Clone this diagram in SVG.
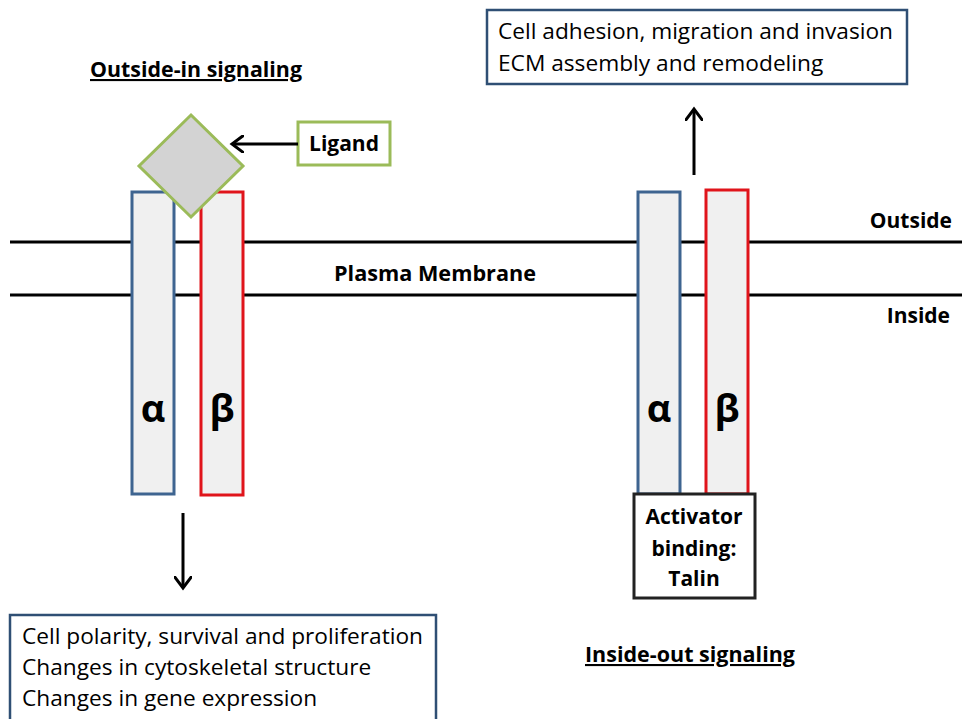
<svg xmlns="http://www.w3.org/2000/svg" width="962" height="719" viewBox="0 0 962 719">
<style>
text{font-family:"Open Sans","Liberation Sans",sans-serif;fill:#000}
.b{font-weight:bold;font-size:21px}
.alpha{fill:#f0f0f0;stroke:#3e6490;stroke-width:3}
.beta{fill:#f0f0f0;stroke:#e0141b;stroke-width:3}
.mem{stroke:#000;stroke-width:3}
.box{fill:#fff;stroke:#2f4f74;stroke-width:2.5}
.arr{stroke:#000;stroke-width:3;fill:none}
.greek{font-size:38px;font-weight:bold;text-anchor:middle}
.t{font-size:22.7px}
.c{text-anchor:middle}
</style>
<defs>
<marker id="ah" markerWidth="6" markerHeight="6" refX="4" refY="3" orient="auto" markerUnits="strokeWidth">
<path d="M0,0 L4,3 L0,6" fill="none" stroke="#000" stroke-width="1"/>
</marker>
</defs>
<rect width="962" height="719" fill="#fff"/>
<g id="membrane">
<line class="mem" x1="10" y1="242" x2="962" y2="242"/>
<line class="mem" x1="10" y1="295" x2="962" y2="295"/>
<text class="b c" x="435" y="281" textLength="202" lengthAdjust="spacingAndGlyphs">Plasma Membrane</text>
<text class="b" x="952" y="228" text-anchor="end">Outside</text>
<text class="b" x="950" y="323" text-anchor="end">Inside</text>
</g>
<g id="left-alpha">
<rect class="alpha" x="132" y="192" width="42" height="302"/>
<text class="greek" x="153" y="422">α</text>
</g>
<g id="left-beta">
<rect class="beta" x="201" y="192" width="42" height="303"/>
<text class="greek" x="222" y="422">β</text>
</g>
<g id="ligand-diamond">
<polygon points="191,115 243,166 191,217 139,166" fill="#d3d3d3" stroke="#9bbb59" stroke-width="3"/>
</g>
<g id="ligand">
<rect x="298" y="122" width="92" height="43" fill="#fff" stroke="#9bbb59" stroke-width="3"/>
<text class="b c" x="344" y="151">Ligand</text>
</g>
<g id="outside-in-title">
<text class="b" x="90" y="77" text-decoration="underline" textLength="212" lengthAdjust="spacingAndGlyphs">Outside-in signaling</text>
</g>
<g id="outcome-top">
<rect class="box" x="487" y="10" width="420" height="74"/>
<text class="t" x="498" y="39" textLength="395" lengthAdjust="spacingAndGlyphs">Cell adhesion, migration and invasion</text>
<text class="t" x="498" y="71">ECM assembly and remodeling</text>
</g>
<g id="right-alpha">
<rect class="alpha" x="638" y="192" width="42" height="302"/>
<text class="greek" x="659" y="422">α</text>
</g>
<g id="right-beta">
<rect class="beta" x="706" y="190" width="42" height="304"/>
<text class="greek" x="727" y="422">β</text>
</g>
<g id="activator">
<rect x="634" y="494" width="121" height="104" fill="#fff" stroke="#222" stroke-width="3"/>
<text class="b c" x="694" y="524">Activator</text>
<text class="b c" x="694" y="556">binding:</text>
<text class="b c" x="694" y="586">Talin</text>
</g>
<g id="outcome-bottom">
<rect class="box" x="10" y="615" width="426" height="110"/>
<text class="t" x="22" y="644" textLength="401" lengthAdjust="spacingAndGlyphs">Cell polarity, survival and proliferation</text>
<text class="t" x="22" y="675">Changes in cytoskeletal structure</text>
<text class="t" x="22" y="706">Changes in gene expression</text>
</g>
<g id="inside-out-title">
<text class="b" x="585" y="662" text-decoration="underline" textLength="210" lengthAdjust="spacingAndGlyphs">Inside-out signaling</text>
</g>
<g id="connectors">
<line class="arr" x1="298" y1="144" x2="232" y2="144" marker-end="url(#ah)"/>
<line class="arr" x1="694" y1="175" x2="694" y2="109" marker-end="url(#ah)"/>
<line class="arr" x1="183" y1="513" x2="183" y2="588" marker-end="url(#ah)"/>
</g>
</svg>
